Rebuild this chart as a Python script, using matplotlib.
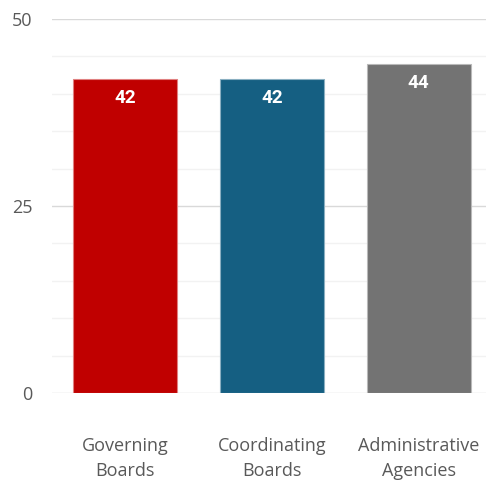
import matplotlib
matplotlib.use('Agg')
import matplotlib.pyplot as plt
from matplotlib.ticker import MultipleLocator

categories = ['Governing\nBoards', 'Coordinating\nBoards', 'Administrative\nAgencies']
values = [42, 42, 44]
colors = ['#c00000', '#155f82', '#737373']
edge_colors = ['#e08080', '#8aafc1', '#b9b9b9']

fig = plt.figure(figsize=(4.86, 4.8), dpi=100)
ax = fig.add_axes([52 / 486, (480 - 393) / 480, 440 / 486, (393 - 19) / 480])

x = range(len(categories))
bars = ax.bar(x, values, width=0.71, color=colors, edgecolor=edge_colors,
              linewidth=0.8, zorder=3)

# value labels inside the top of each bar
for rect, v in zip(bars, values):
    ax.annotate(str(v), xy=(rect.get_x() + rect.get_width() / 2, v),
                xytext=(0, -19), textcoords='offset pixels',
                ha='center', va='center', color='white', fontsize=13.5,
                fontweight='bold', family='Roboto', zorder=4)

ax.set_xlim(-0.5, 2.5)
ax.set_ylim(0, 50)
ax.yaxis.set_major_locator(MultipleLocator(25))
ax.yaxis.set_minor_locator(MultipleLocator(5))
ax.grid(axis='y', which='major', color='#d9d9d9', linewidth=1.0, zorder=0)
ax.grid(axis='y', which='minor', color='#f2f2f2', linewidth=1.0, zorder=0)

for s in ax.spines.values():
    s.set_visible(False)

ax.set_xticks(list(x))
ax.set_xticklabels(categories, fontsize=13, color='#595959', family='Open Sans',
                   linespacing=1.45)
ax.tick_params(axis='x', length=0, pad=32)
ax.tick_params(axis='y', which='both', length=0, pad=14, labelsize=13,
               labelcolor='#595959')
for lab in ax.get_yticklabels():
    lab.set_family('Open Sans')

fig.savefig('out.png', dpi=100)
